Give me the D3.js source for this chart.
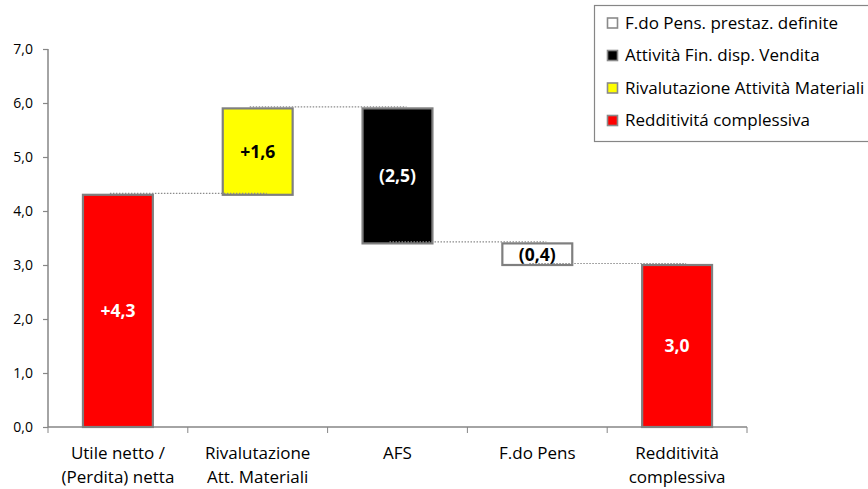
<!DOCTYPE html>
<html>
<head>
<meta charset="utf-8">
<script src="https://cdn.jsdelivr.net/npm/d3@7"></script>
<style>
  html, body { margin: 0; padding: 0; background: #fff; }
  svg { display: block; font-family: "Open Sans", Lato, sans-serif; }
</style>
</head>
<body>
<svg id="chart" width="868" height="489"></svg>
<script>
// Waterfall: categories, step values and how each step is drawn
const categories = [
  ["Utile netto /", "(Perdita) netta"],
  ["Rivalutazione", "Att. Materiali"],
  ["AFS"],
  ["F.do Pens"],
  ["Redditività", "complessiva"]
];
const stepValues = [4.3, 1.6, -2.5, -0.4, 3.0];
const stepKinds  = ["total", "delta", "delta", "delta", "total"];
const valueLabels = ["+4,3", "+1,6", "(2,5)", "(0,4)", "3,0"];
const barFills   = ["#ff0000", "#ffff00", "#000000", "#ffffff", "#ff0000"];
const labelFills = ["#ffffff", "#000000", "#ffffff", "#000000", "#ffffff"];
const yTicks = [0, 1, 2, 3, 4, 5, 6, 7];
const legendLabels = [
  "F.do Pens. prestaz. definite",
  "Attività Fin. disp. Vendita",
  "Rivalutazione Attività Materiali",
  "Redditivitá complessiva"
];
const legendFills = ["#ffffff", "#000000", "#ffff00", "#ff0000"];

// Running start/end of each step
let level = 0;
const steps = stepValues.map((v, i) => {
  let lo, hi, end;
  if (stepKinds[i] === "total") { lo = 0; hi = v; end = v; }
  else { end = +(level + v).toFixed(2); lo = Math.min(level, end); hi = Math.max(level, end); }
  level = end;
  return { i, lo, hi, end };
});

const svg = d3.select("#chart");
const margin = { left: 48, right: 121, top: 49, bottom: 62 };
const W = 868, H = 489;

const x = d3.scaleBand()
  .domain(d3.range(categories.length))
  .range([margin.left, W - margin.right])
  .paddingInner(0.5).paddingOuter(0.25);

const y = d3.scaleLinear().domain([0, 7]).range([H - margin.bottom, margin.top]);

const fmt = d => d.toFixed(1).replace(".", ",");
const axisGrey = "#868686";

// Y axis
const yAxis = svg.append("g")
  .attr("transform", `translate(${margin.left},0)`)
  .call(d3.axisLeft(y).tickValues(yTicks).tickFormat(fmt).tickSize(5).tickPadding(10));
yAxis.select(".domain").attr("stroke", axisGrey).attr("stroke-width", 1.5).attr("d", `M0,${y(0)}V${y(7)}`);
yAxis.selectAll(".tick line").attr("stroke", axisGrey).attr("stroke-width", 1.2);
yAxis.selectAll(".tick text").attr("fill", "#000").style("font-size", "14px")
  .style("font-family", "'Open Sans', sans-serif");

// X axis line with ticks at band boundaries
const x0 = margin.left, x1 = W - margin.right;
svg.append("line").attr("x1", x0).attr("x2", x1).attr("y1", y(0)).attr("y2", y(0))
  .attr("stroke", axisGrey).attr("stroke-width", 1.5);
svg.append("g").selectAll("line")
  .data(d3.range(categories.length + 1))
  .join("line")
  .attr("x1", d => x0 + d * (x1 - x0) / categories.length)
  .attr("x2", d => x0 + d * (x1 - x0) / categories.length)
  .attr("y1", y(0)).attr("y2", y(0) + 6)
  .attr("stroke", axisGrey).attr("stroke-width", 1);

// Category labels
svg.append("g").selectAll("text")
  .data(categories)
  .join("text")
  .attr("x", (d, i) => x(i) + x.bandwidth() / 2)
  .attr("y", 459)
  .attr("text-anchor", "middle")
  .style("font-size", "17px")
  .selectAll("tspan")
  .data(d => d)
  .join("tspan")
  .attr("x", function () { return this.parentNode.getAttribute("x"); })
  .attr("dy", (d, j) => j === 0 ? 0 : 24)
  .text(d => d);

// Bars
svg.append("g").selectAll("rect")
  .data(steps)
  .join("rect")
  .attr("x", d => x(d.i))
  .attr("y", d => y(d.hi))
  .attr("width", x.bandwidth())
  .attr("height", d => y(d.lo) - y(d.hi))
  .attr("fill", d => barFills[d.i])
  .attr("stroke", "#7f7f7f")
  .attr("stroke-width", 2.2);

// Dotted connectors between consecutive steps
const conns = steps.slice(0, -1).map((d, k) => ({
  xa: x(k) + x.bandwidth() / 2 - 8,
  xb: x(k + 1) + x.bandwidth() / 2 + 9,
  v: d.end
}));
svg.append("g").selectAll("line")
  .data(conns)
  .join("line")
  .attr("x1", d => d.xa).attr("x2", d => d.xb)
  .attr("y1", d => y(d.v) - 1.5).attr("y2", d => y(d.v) - 1.5)
  .attr("stroke", "#8c8c8c").attr("stroke-width", 1.2)
  .attr("stroke-dasharray", "1.5,1.5");

// Value labels
svg.append("g").selectAll("text")
  .data(steps)
  .join("text")
  .attr("x", d => x(d.i) + x.bandwidth() / 2)
  .attr("y", d => (y(d.lo) + y(d.hi)) / 2)
  .attr("dy", "0.36em")
  .attr("text-anchor", "middle")
  .attr("fill", d => labelFills[d.i])
  .style("font-size", "17.5px")
  .style("font-weight", "bold")
  .text(d => valueLabels[d.i]);

// Legend
const lg = svg.append("g");
lg.append("rect").attr("x", 594.5).attr("y", 5.5).attr("width", 290).attr("height", 136)
  .attr("fill", "#fff").attr("stroke", "#868686").attr("stroke-width", 1.2);
const rows = lg.selectAll("g.row")
  .data(legendLabels)
  .join("g")
  .attr("class", "row")
  .attr("transform", (d, i) => `translate(607,${23 + i * 32.5})`);
rows.append("rect").attr("x", 0.5).attr("y", -5).attr("width", 10).attr("height", 10)
  .attr("fill", (d, i) => legendFills[i]).attr("stroke", "#8a8a8a").attr("stroke-width", 1.6);
rows.append("text").attr("x", 18).attr("dy", "0.35em")
  .style("font-size", "17px").text(d => d);
</script>
</body>
</html>
